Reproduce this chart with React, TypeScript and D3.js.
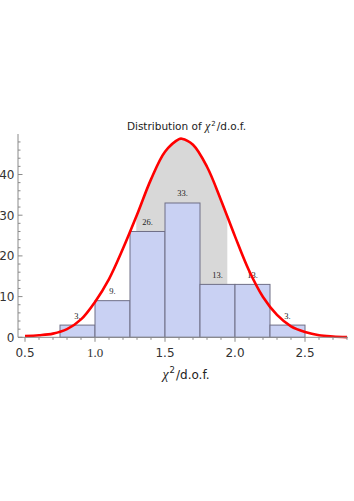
import React, { useRef, useEffect } from "react";
import * as d3 from "d3";

// histogram bins (left edges) and counts
const binEdges = [0.75, 1.0, 1.25, 1.5, 1.75, 2.0, 2.25, 2.5];
const binCounts = [3, 9, 26, 33, 13, 13, 3];

// fitted curve
const curveX = [0.5, 0.6, 0.7, 0.8, 0.9, 1.0, 1.1, 1.2, 1.3, 1.4, 1.5, 1.6, 1.62, 1.7, 1.8, 1.9, 2.0, 2.1, 2.2, 2.3, 2.4, 2.5, 2.6, 2.7, 2.8];
const curveY = [0.3, 0.5, 0.9, 2.0, 4.4, 8.7, 14.3, 21.8, 30.1, 38.8, 45.6, 48.7, 48.8, 47.3, 41.9, 33.7, 24.8, 16.4, 9.9, 5.5, 2.7, 1.3, 0.5, 0.2, 0.05];

// shaded +-1 sigma band
const bandLow = 1.295;
const bandHigh = 1.945;

const xMajor = [0.5, 1.0, 1.5, 2.0, 2.5];
const xMinor = d3.range(5, 29).map((d) => d / 10);
const yMajor = [0, 10, 20, 30, 40];
const yMinor = d3.range(0, 50, 2);

const Chart = () => {
  const svgRef = useRef(null);

  useEffect(() => {
    const svg = d3.select(svgRef.current);
    svg.selectAll("*").remove();

    const width = 354;
    const height = 501;
    svg.attr("width", width).attr("height", height);

    const x = d3.scaleLinear().domain([0.5, 2.5]).range([25, 305]);
    const y = d3.scaleLinear().domain([0, 40]).range([337.3, 174.5]);

    const pts = curveX.map((v, i) => ({ x: v, y: curveY[i] }));

    // gray band under the curve
    svg
      .append("clipPath")
      .attr("id", "band")
      .append("rect")
      .attr("x", x(bandLow))
      .attr("y", 0)
      .attr("width", x(bandHigh) - x(bandLow))
      .attr("height", height);

    const area = d3
      .area()
      .x((d) => x(d.x))
      .y0(y(0))
      .y1((d) => y(d.y))
      .curve(d3.curveCatmullRom);

    svg
      .append("path")
      .datum(pts)
      .attr("clip-path", "url(#band)")
      .attr("fill", "#d8d8d8")
      .attr("d", area);

    // bars
    const bars = binCounts.map((c, i) => ({ x0: binEdges[i], x1: binEdges[i + 1], c }));
    svg
      .append("g")
      .selectAll("rect")
      .data(bars)
      .enter()
      .append("rect")
      .attr("x", (d) => x(d.x0))
      .attr("y", (d) => y(d.c))
      .attr("width", (d) => x(d.x1) - x(d.x0))
      .attr("height", (d) => y(0) - y(d.c))
      .attr("fill", "#c9d1f3")
      .attr("stroke", "#6f6f86")
      .attr("stroke-width", 1);

    svg
      .append("g")
      .selectAll("text")
      .data(bars)
      .enter()
      .append("text")
      .attr("x", (d) => x((d.x0 + d.x1) / 2))
      .attr("y", (d) => y(d.c) - 6.5)
      .attr("text-anchor", "middle")
      .attr("font-family", "'Liberation Serif', serif")
      .attr("font-size", 8.5)
      .attr("fill", "#222")
      .text((d) => `${d.c}.`);

    // red curve
    const line = d3
      .line()
      .x((d) => x(d.x))
      .y((d) => y(d.y))
      .curve(d3.curveCatmullRom);

    svg
      .append("path")
      .datum(pts)
      .attr("fill", "none")
      .attr("stroke", "#ff0000")
      .attr("stroke-width", 2.6)
      .attr("d", line);

    // axes
    const axisColor = "#8a8a8a";
    const xl = x(0.45);
    const xr = x(2.807);
    const yb = y(0);
    const yt = y(49.95);

    svg.append("line").attr("x1", xl).attr("x2", xr).attr("y1", yb).attr("y2", yb).attr("stroke", axisColor);
    svg.append("line").attr("x1", xl).attr("x2", xl).attr("y1", yb).attr("y2", yt).attr("stroke", axisColor);

    svg
      .append("g")
      .selectAll("line")
      .data(xMinor)
      .enter()
      .append("line")
      .attr("x1", (d) => x(d))
      .attr("x2", (d) => x(d))
      .attr("y1", yb)
      .attr("y2", (d) => yb + (xMajor.some((m) => Math.abs(m - d) < 1e-6) ? 4.5 : 2.5))
      .attr("stroke", axisColor);

    svg
      .append("g")
      .selectAll("line")
      .data(yMinor)
      .enter()
      .append("line")
      .attr("x1", xl)
      .attr("x2", (d) => xl + (yMajor.includes(d) ? 4.5 : 2.5))
      .attr("y1", (d) => y(d))
      .attr("y2", (d) => y(d))
      .attr("stroke", axisColor);

    svg
      .append("g")
      .selectAll("text")
      .data(xMajor)
      .enter()
      .append("text")
      .attr("x", (d) => x(d))
      .attr("y", yb + 19.5)
      .attr("text-anchor", "middle")
      .attr("font-family", (d) => (d === 1.0 ? "'Liberation Serif', serif" : "'DejaVu Sans', sans-serif"))
      .attr("font-size", (d) => (d === 1.0 ? 13 : 12))
      .attr("fill", "#333")
      .text((d) => d3.format(".1f")(d));

    svg
      .append("g")
      .selectAll("text")
      .data(yMajor)
      .enter()
      .append("text")
      .attr("x", xl - 3.5)
      .attr("y", (d) => y(d) + 4.5)
      .attr("text-anchor", "end")
      .attr("font-family", "'DejaVu Sans', sans-serif")
      .attr("font-size", 12)
      .attr("fill", "#333")
      .text((d) => d);

    // title
    const title = svg
      .append("text")
      .attr("x", 186.5)
      .attr("y", 130)
      .attr("text-anchor", "middle")
      .attr("font-family", "'DejaVu Sans', sans-serif")
      .attr("font-size", 10.5)
      .attr("fill", "#222");
    title.append("tspan").text("Distribution of ");
    title.append("tspan").attr("font-style", "italic").attr("font-family", "'Liberation Serif', serif").attr("font-size", 12).text("χ");
    title.append("tspan").attr("dy", -4.5).attr("dx", 1).attr("font-size", 7).text("2");
    title.append("tspan").attr("dy", 4.5).attr("dx", 1).text("/d.o.f.");

    // x label
    const xlab = svg
      .append("text")
      .attr("x", 186)
      .attr("y", 378.5)
      .attr("text-anchor", "middle")
      .attr("font-family", "'DejaVu Sans', sans-serif")
      .attr("font-size", 12)
      .attr("fill", "#222");
    xlab.append("tspan").attr("font-style", "italic").attr("font-family", "'Liberation Serif', serif").attr("font-size", 14).text("χ");
    xlab.append("tspan").attr("dy", -5.5).attr("dx", 1).attr("font-size", 8.5).text("2");
    xlab.append("tspan").attr("dy", 5.5).attr("dx", 1).text("/d.o.f.");
  }, []);

  return <svg ref={svgRef} style={{ display: "block" }} />;
};

export default function App() {
  return (
    <div style={{ position: "absolute", left: 0, top: 0 }}>
      <Chart />
    </div>
  );
}
